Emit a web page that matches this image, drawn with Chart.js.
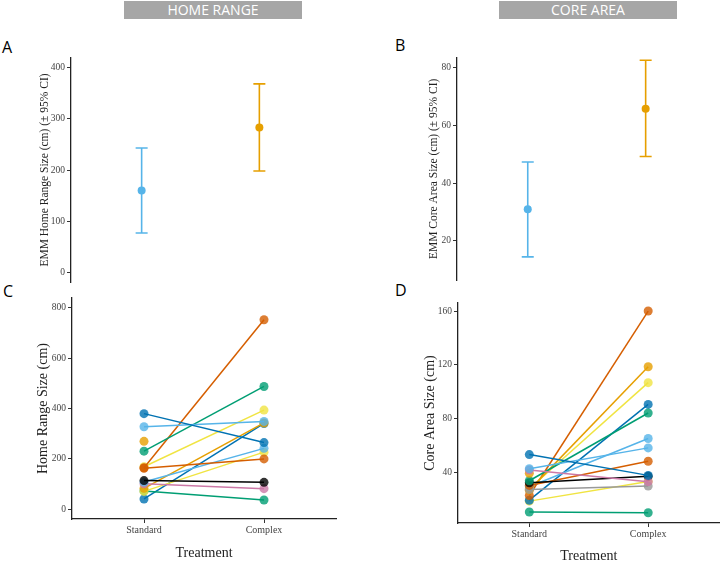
<!DOCTYPE html>
<html>
<head>
<meta charset="utf-8">
<script src="https://cdn.jsdelivr.net/npm/chart.js@4.4.1/dist/chart.umd.min.js"></script>
<style>
  body { margin: 0; background: #fff; }
  #page { position: relative; width: 724px; height: 568px; overflow: hidden; }
  .box { position: absolute; }
  .head { position: absolute; background: #a6a6a6; color: #fff; font: 14px "Open Sans", sans-serif;
          text-align: center; line-height: 18px; height: 18px; }
  .tag { position: absolute; font: 16px "Open Sans", sans-serif; line-height: 16px; color: #000; }
</style>
</head>
<body>
<div id="page">
  <div class="head" style="left:124px;top:1px;width:178px;">HOME RANGE</div>
  <div class="head" style="left:499px;top:1px;width:178px;">CORE AREA</div>
  <div class="tag" style="left:2px;top:39px;">A</div>
  <div class="tag" style="left:395px;top:37px;">B</div>
  <div class="tag" style="left:3px;top:283px;">C</div>
  <div class="tag" style="left:395px;top:282px;">D</div>

  <div class="box" style="left:0;top:50px;width:362px;height:240px;"><canvas id="chartA"></canvas></div>
  <div class="box" style="left:362px;top:50px;width:362px;height:240px;"><canvas id="chartB"></canvas></div>
  <div class="box" style="left:0;top:290px;width:362px;height:278px;"><canvas id="chartC"></canvas></div>
  <div class="box" style="left:362px;top:290px;width:362px;height:278px;"><canvas id="chartD"></canvas></div>
</div>

<script>
var treatments = ['Standard', 'Complex'];
var groupColors = ['#56B4E9', '#E69F00'];

// EMM (+/- 95% CI)
var homeEmm = [160, 283];
var homeLow = [77, 198];
var homeHigh = [243, 368];
var homeEmmTicks = [0, 100, 200, 300, 400];

var coreEmm = [31, 65.7];
var coreLow = [14.5, 49.2];
var coreHigh = [47.3, 82.5];
var coreEmmTicks = [20, 40, 60, 80];

// individual home range, standard -> complex
var homeStandard = [379, 327, 269, 230, 164, 162, 168, 113, 107, 100, 82, 70, 72, 40];
var homeComplex  = [264, 348, null, 487, 752, 199, 393, 106, 241, 81, 342, 226, 36, 340];
var homeColors = ['#0072B2', '#56B4E9', '#E69F00', '#009E73', '#D55E00', '#D55E00', '#F0E442',
                  '#000000', '#56B4E9', '#CC79A7', '#E69F00', '#F0E442', '#009E73', '#0072B2'];
var homeTicks = [0, 200, 400, 600, 800];

// individual core area, standard -> complex
var coreStandard = [53, 42.5, 41.5, 39, 33.5, 32, 30, 27, 29, 26.5, 27.5, 22.5, 19, 18.3, 10.2];
var coreComplex  = [37.5, 58, 32.8, null, 84, 36.8, 48, 29.5, 65, 118.5, 106.6, 160, 90.4, 33, 9.6];
var coreColors = ['#0072B2', '#56B4E9', '#CC79A7', '#E69F00', '#009E73', '#000000', '#D55E00',
                  '#999999', '#56B4E9', '#E69F00', '#F0E442', '#D55E00', '#0072B2', '#F0E442', '#009E73'];
var coreTicks = [40, 80, 120, 160];

var serif = '"Liberation Serif", "DejaVu Serif", serif';

function alpha(hex, a) {
    var n = parseInt(hex.slice(1), 16);
    return 'rgba(' + (n >> 16) + ',' + ((n >> 8) & 255) + ',' + (n & 255) + ',' + a + ')';
}

function yAxis(min, max, ticks, title, width, titlePad) {
    return {
        type: 'linear', min: min, max: max,
        afterBuildTicks: function (s) { s.ticks = ticks.map(function (v) { return { value: v }; }); },
        afterFit: function (s) { s.width = width; },
        grid: { drawOnChartArea: false, drawTicks: true, tickLength: 4, color: '#333' },
        border: { display: true, color: '#222', width: 1.3 },
        ticks: { padding: 2, color: '#444', font: { family: serif, size: 9.5 } },
        title: { display: true, text: title, color: '#222', padding: { top: titlePad, bottom: 0 },
                 font: { family: serif, size: title.indexOf('EMM') === 0 ? 11.5 : 14 } }
    };
}

function xAxis(show, height, titlePad) {
    return {
        type: 'linear', min: -0.6, max: 1.6,
        display: show,
        afterBuildTicks: function (s) { s.ticks = [{ value: 0 }, { value: 1 }]; },
        afterFit: function (s) { if (show) s.height = height; },
        grid: { drawOnChartArea: false, drawTicks: true, tickLength: 4, color: '#333' },
        border: { display: true, color: '#222', width: 1.3 },
        ticks: { padding: 1, color: '#444', maxRotation: 0, font: { family: serif, size: 10 },
                 callback: function (v) { return treatments[v]; } },
        title: { display: true, text: 'Treatment', color: '#222', padding: { top: 0, bottom: titlePad },
                 font: { family: serif, size: 14 } }
    };
}

function emmChart(id, mean, low, high, yOpts, pad) {
    var datasets = [];
    mean.forEach(function (m, i) {
        // whisker with caps
        datasets.push({
            data: [{ x: i, y: low[i] }, { x: i, y: high[i] }],
            showLine: true, borderColor: groupColors[i], borderWidth: 1.6,
            pointStyle: 'line', pointRadius: 6, pointBorderColor: groupColors[i], pointBorderWidth: 1.6
        });
        datasets.push({
            data: [{ x: i, y: m }],
            pointRadius: 4, pointBackgroundColor: groupColors[i], pointBorderWidth: 0
        });
    });
    return new Chart(document.getElementById(id), {
        type: 'scatter',
        data: { datasets: datasets },
        options: {
            responsive: true, maintainAspectRatio: false, animation: false,
            layout: { padding: pad },
            plugins: { legend: { display: false }, tooltip: { enabled: false } },
            scales: { x: xAxis(false), y: yOpts }
        }
    });
}

function pairChart(id, std, cx, colors, yOpts, xOpts, pad) {
    var datasets = std.map(function (s, i) {
        var pts = [{ x: 0, y: s }];
        if (cx[i] !== null) pts.push({ x: 1, y: cx[i] });
        return {
            data: pts, showLine: true,
            borderColor: colors[i], borderWidth: 1.5,
            pointRadius: 4.5, pointBorderWidth: 0,
            pointBackgroundColor: alpha(colors[i], 0.8)
        };
    });
    return new Chart(document.getElementById(id), {
        type: 'scatter',
        data: { datasets: datasets },
        options: {
            responsive: true, maintainAspectRatio: false, animation: false,
            layout: { padding: pad },
            plugins: { legend: { display: false }, tooltip: { enabled: false } },
            scales: { x: xOpts, y: yOpts }
        }
    });
}

emmChart('chartA', homeEmm, homeLow, homeHigh,
    yAxis(-19, 419, homeEmmTicks, 'EMM Home Range Size (cm) (\u00b1 95% CI)', 71, 38),
    { left: 0, right: 32, top: 5, bottom: 7 });

emmChart('chartB', coreEmm, coreLow, coreHigh,
    yAxis(6.5, 83.4, coreEmmTicks, 'EMM Core Area Size (cm) (\u00b1 95% CI)', 95, 65),
    { left: 0, right: 3, top: 2, bottom: 10 });

pairChart('chartC', homeStandard, homeComplex, homeColors,
    yAxis(-39.7, 838.5, homeTicks, 'Home Range Size (cm)', 72, 35),
    xAxis(true, 49, 6.6),
    { left: 0, right: 26, top: 8, bottom: 0 });

pairChart('chartD', coreStandard, coreComplex, coreColors,
    yAxis(2, 166, coreTicks, 'Core Area Size (cm)', 96, 60),
    xAxis(true, 45, 3),
    { left: 0, right: 2, top: 13, bottom: 0 });
</script>
</body>
</html>
